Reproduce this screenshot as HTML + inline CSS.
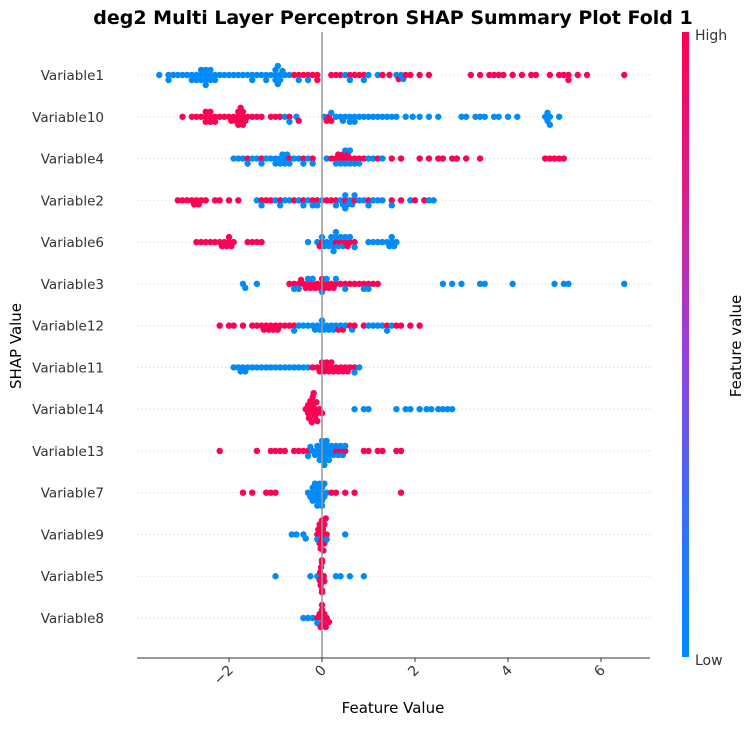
<!DOCTYPE html>
<html><head><meta charset="utf-8"><style>
body{margin:0;background:#fff;}
svg text{font-family:"DejaVu Sans","Liberation Sans",sans-serif;}
</style></head><body>
<svg id="chart" width="755" height="725" xmlns="http://www.w3.org/2000/svg">
<defs><linearGradient id="cb" x1="0" y1="1" x2="0" y2="0">
<stop offset="0" stop-color="#008bfb"/><stop offset="0.25" stop-color="#3d6cf3"/><stop offset="0.5" stop-color="#9b3fd6"/><stop offset="0.75" stop-color="#d8208c"/><stop offset="1" stop-color="#ff0052"/></linearGradient></defs>
<text x="393" y="24" text-anchor="middle" font-size="19" font-weight="bold">deg2 Multi Layer Perceptron SHAP Summary Plot Fold 1</text>
<g id="grid"></g><g id="pts"></g><g id="axes"></g>
<rect x="682" y="32" width="7" height="625" fill="url(#cb)"/>
<text x="695" y="40" font-size="14" fill="#333">High</text>
<text x="695" y="665" font-size="14" fill="#333">Low</text>
<text transform="translate(741,346) rotate(-90)" text-anchor="middle" font-size="15">Feature value</text>
<text x="393" y="713" text-anchor="middle" font-size="15">Feature Value</text>
<text transform="translate(21,346) rotate(-90)" text-anchor="middle" font-size="15">SHAP Value</text>
</svg>
<script>
const features=["Variable1","Variable10","Variable4","Variable2","Variable6","Variable3","Variable12","Variable11","Variable14","Variable13","Variable7","Variable9","Variable5","Variable8"];
const xTicks=[-2,0,2,4,6];
const highVals=[
[-0.6,-0.5,-0.4,-0.3,-0.2,-0.1,-0.1,0.2,0.3,0.4,0.6,0.7,0.8,0.9,1.3,1.45,1.65,1.8,1.9,2.1,2.3,3.2,3.4,3.6,3.7,3.8,3.9,4.1,4.3,4.5,4.6,4.9,5.1,5.2,5.3,5.3,5.5,5.7,6.5],
[-3.0,-2.8,-2.7,-2.6,-2.5,-2.5,-2.5,-2.4,-2.4,-2.4,-2.3,-2.3,-2.2,-2.1,-2.0,-1.95,-1.9,-1.85,-1.8,-1.8,-1.8,-1.75,-1.75,-1.7,-1.7,-1.7,-1.65,-1.6,-1.5,-1.4,-1.3,-1.1,-1.0,-0.9,-0.7,-0.5,0.1,0.15,0.2],
[-1.6,-1.3,-0.7,-0.4,-0.2,0.2,0.3,0.35,0.4,0.45,0.5,0.55,0.6,0.7,0.8,0.9,1.2,1.5,1.7,2.1,2.3,2.5,2.6,2.8,2.9,3.1,3.4,4.8,4.9,5.0,5.1,5.2],
[-3.1,-3.0,-2.9,-2.8,-2.75,-2.7,-2.65,-2.6,-2.5,-2.3,-2.2,-2.0,-1.8,-1.3,-1.2,-1.1,-0.9,-0.6,-0.4,-0.2,-0.1,0.1,0.2,0.3,0.5,0.7,1.0,1.5,1.7,2.0,2.2],
[-2.7,-2.6,-2.5,-2.4,-2.3,-2.2,-2.15,-2.1,-2.05,-2.0,-2.0,-1.95,-1.9,-1.6,-1.5,-1.4,-1.3,-0.05,0.0,0.3,0.4,0.5,0.55,0.6,0.7],
[-0.7,-0.6,-0.5,-0.45,-0.4,-0.35,-0.3,-0.25,-0.2,-0.15,-0.1,-0.05,0.0,0.0,0.05,0.1,0.15,0.2,0.25,0.3,0.4,0.5,0.6,0.7,0.8,0.9,1.0,1.1,1.2],
[-2.2,-2.0,-1.9,-1.7,-1.5,-1.4,-1.3,-1.25,-1.2,-1.15,-1.1,-1.05,-1.0,-0.95,-0.9,-0.8,-0.7,-0.6,0.35,0.45,0.6,0.7,0.9,1.4,1.6,1.7,1.9,2.1],
[-0.2,-0.1,-0.05,0.0,0.0,0.05,0.1,0.1,0.15,0.2,0.2,0.25,0.3,0.35,0.4,0.45,0.5,0.55,0.6,0.7],
[-0.35,-0.3,-0.3,-0.28,-0.25,-0.25,-0.22,-0.2,-0.2,-0.2,-0.18,-0.15,-0.15,-0.12,-0.1,-0.1,-0.05,0.0],
[-2.2,-1.4,-1.1,-1.0,-0.9,-0.8,-0.6,-0.5,-0.4,-0.3,0.3,0.4,0.5,0.9,1.0,1.2,1.3,1.6,1.7],
[-1.7,-1.5,-1.2,-1.1,-1.0,0.2,0.3,0.5,0.7,1.7],
[-0.1,-0.08,-0.05,-0.05,-0.03,0.0,0.0,0.0,0.02,0.03,0.05,0.05,0.08,0.1],
[-0.05,-0.04,-0.03,-0.02,0.0,0.0,0.0,0.0,0.01,0.02,0.03,0.04,0.05],
[-0.1,-0.05,-0.03,0.0,0.0,0.0,0.02,0.05,0.08,0.1,0.15]
];
const lowVals=[
[-3.5,-3.3,-3.3,-3.2,-3.1,-3.0,-2.9,-2.8,-2.8,-2.7,-2.7,-2.6,-2.6,-2.6,-2.5,-2.5,-2.5,-2.5,-2.4,-2.4,-2.4,-2.3,-2.3,-2.2,-2.1,-2.0,-1.9,-1.8,-1.7,-1.6,-1.5,-1.5,-1.4,-1.3,-1.2,-1.2,-1.1,-1.0,-1.0,-1.0,-0.95,-0.95,-0.9,-0.9,-0.85,-0.8,-0.7,-0.5,-0.3,0.5,0.6,0.9,1.0,1.2,1.6,1.7,1.75],
[-0.8,-0.7,-0.55,0.05,0.2,0.3,0.4,0.45,0.5,0.6,0.6,0.7,0.7,0.8,0.9,1.0,1.1,1.2,1.3,1.4,1.5,1.6,1.8,1.95,2.1,2.3,2.5,3.0,3.1,3.3,3.4,3.5,3.7,3.8,4.0,4.2,4.8,4.85,4.85,4.9,4.9,5.1],
[-1.9,-1.8,-1.7,-1.6,-1.5,-1.4,-1.3,-1.2,-1.1,-1.0,-1.0,-0.9,-0.9,-0.85,-0.8,-0.8,-0.75,-0.7,-0.6,-0.5,-0.4,-0.3,-0.2,0.1,0.3,0.4,0.5,0.5,0.6,0.6,0.7,0.8,1.0,1.1,1.3],
[-1.4,-1.3,-1.0,-0.9,-0.8,-0.7,-0.5,-0.4,-0.3,-0.2,-0.1,0.0,0.3,0.4,0.45,0.5,0.5,0.55,0.6,0.65,0.7,0.8,0.9,1.0,1.1,1.2,1.3,1.5,1.9,2.3,2.4],
[-0.3,-0.1,0.0,0.05,0.1,0.15,0.2,0.2,0.25,0.25,0.3,0.3,0.35,0.4,0.45,0.5,0.6,0.7,1.0,1.1,1.2,1.3,1.4,1.45,1.5,1.5,1.55,1.6],
[-1.7,-1.65,-1.4,-0.6,-0.5,-0.3,-0.2,0.0,0.1,0.3,0.5,0.9,1.0,2.6,2.8,3.0,3.4,3.5,4.1,5.0,5.2,5.3,6.5],
[-0.6,-0.5,-0.4,-0.3,-0.2,-0.15,-0.1,-0.05,0.0,0.0,0.05,0.1,0.15,0.2,0.25,0.3,0.4,0.5,0.65,1.0,1.1,1.2,1.3,1.4,1.5],
[-1.9,-1.8,-1.75,-1.7,-1.65,-1.6,-1.5,-1.4,-1.3,-1.2,-1.1,-1.0,-0.9,-0.8,-0.7,-0.6,-0.5,-0.4,-0.3,0.7,0.8],
[0.7,0.9,1.0,1.6,1.8,1.9,2.1,2.25,2.35,2.5,2.6,2.7,2.8],
[-0.3,-0.25,-0.2,-0.15,-0.1,-0.1,-0.05,0.0,0.0,0.0,0.05,0.05,0.1,0.1,0.15,0.2,0.25,0.3,0.35,0.4,0.45,0.5,-0.05,0.05,0.1,0.15,0.2],
[-0.3,-0.25,-0.2,-0.2,-0.15,-0.15,-0.1,-0.1,-0.1,-0.05,-0.05,0.0,0.0,0.0,0.05,0.05,0.1,-0.2,-0.1,0.0],
[-0.65,-0.55,-0.4,-0.35,-0.1,0.1,0.5],
[-1.0,-0.25,-0.1,0.3,0.4,0.6,0.9],
[-0.4,-0.3,-0.2,-0.1]
];
const NS="http://www.w3.org/2000/svg";
const X0=322,XS=46.5,Y0=75,YS=41.77,L=137,R=650,B=658,RAD=3.2,MIND=4.6;
const xScale=v=>X0+v*XS;
const yScale=i=>Y0+i*YS;
function mk(t,a,p){const e=document.createElementNS(NS,t);for(const k in a)e.setAttribute(k,a[k]);p.appendChild(e);return e;}
const grid=document.getElementById('grid'),pts=document.getElementById('pts'),axes=document.getElementById('axes');
features.forEach((f,i)=>{
  const y=yScale(i);
  const gl=mk('line',{x1:L,x2:R,y1:y,y2:y,stroke:'#ccc','stroke-width':1,'stroke-dasharray':'1,3'},grid);
  
  
  const t=mk('text',{x:104,y:y+5,'text-anchor':'end','font-size':13.5,fill:'#333'},axes);
  t.textContent=f;
  
  
  const all=[];
  highVals[i].forEach((v,k)=>all.push([v,'#ff0052',k]));
  lowVals[i].forEach((v,k)=>all.push([v,'#008bfb',k+100]));
  all.sort((a,b)=>a[0]-b[0]);
  const placed=[];
  all.forEach(([v,c])=>{
    const px=xScale(v);let off=null;
    for(let k=0;k<40;k++){
      const o=(k%2?1:-1)*Math.ceil(k/2)*1.0;
      if(!placed.some(p=>Math.hypot(p[0]-px,p[1]-o)<MIND)){off=o;break;}
    }
    if(off===null)off=0;
    off=Math.max(-16,Math.min(16,off));
    placed.push([px,off]);
    const d=mk('circle',{cx:px,cy:y+off,r:RAD,fill:c},pts);
    
    
  });
});
const z=mk('line',{x1:X0,x2:X0,y1:32,y2:B,stroke:'#999','stroke-width':1.5},axes);


const ax=mk('line',{x1:L,x2:R,y1:B,y2:B,stroke:'#333','stroke-width':1},axes);


xTicks.forEach(v=>{
  const x=xScale(v);
  const tk=mk('line',{x1:x,x2:x,y1:B,y2:B+4,stroke:'#333'},axes);
  
  
  const t=mk('text',{transform:`translate(${x+5},${B+13}) rotate(-45)`,'text-anchor':'end','font-size':14,fill:'#333'},axes);
  t.textContent=(v<0?'\u2212':'')+Math.abs(v);
  
  
});
</script>
</body></html>
